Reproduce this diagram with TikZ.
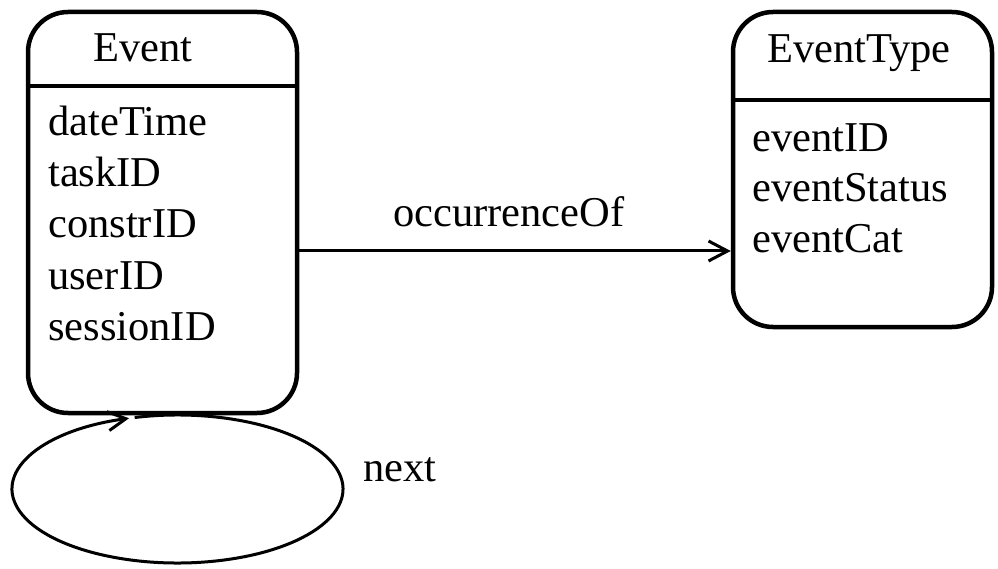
\documentclass[tikz,border=0pt]{standalone}
\usepackage{fontspec}
\setmainfont{Liberation Serif}
\usetikzlibrary{arrows.meta}
\begin{document}
\begin{tikzpicture}[x=1pt,y=-1pt,
  entity/.style={draw, line width=4.5pt, rounded corners=40pt, inner sep=0pt},
  divider/.style={line width=4pt},
  label/.style={anchor=base west, inner sep=0pt, font=\fontsize{42.5}{42}\selectfont},
  assoc/.style={line width=3pt, -{Straight Barb[length=19pt,width=20pt,line width=3pt]}},
  loopline/.style={line width=3pt, -{Straight Barb[length=18pt,width=19pt,line width=3pt]}}]
\useasboundingbox (0,0) rectangle (998,569);

% Event entity
\node[entity, minimum width=269pt, minimum height=401pt] (event) at (162.5,212.5) {};
\draw[divider] (event.west |- 0,86) -- (event.east |- 0,86);
\node[label] (eventname) at (93,62) {Event};
\node[label] (a1) at (48,136) {dateTime};
\node[label] (a2) at (48,187) {taskID};
\node[label] (a3) at (48,238) {constrID};
\node[label] (a4) at (48,289) {userID};
\node[label] (a5) at (48,340) {sessionID};

% EventType entity
\node[entity, minimum width=259pt, minimum height=315pt] (etype) at (862.5,169.5) {};
\draw[divider] (etype.west |- 0,100) -- (etype.east |- 0,100);
\node[label] (etypename) at (767,63) {EventType};
\node[label] (b1) at (752,152) {eventID};
\node[label] (b2) at (752,202) {eventStatus};
\node[label] (b3) at (752,253) {eventCat};

% occurrenceOf association
\draw[assoc] (event.east |- 0,251) -- (etype.west |- 0,251);
\node[label] (occ) at (393,227) {occurrenceOf};

% next: self association drawn as a loop below Event
\coordinate (loopc) at (177.5,489);
\draw[loopline] (loopc) ++(465:165.5pt and 74pt)
  arc[start angle=465, end angle=107, x radius=165.5pt, y radius=74pt];
\node[label] (next) at (363,481) {next};
\end{tikzpicture}
\end{document}
